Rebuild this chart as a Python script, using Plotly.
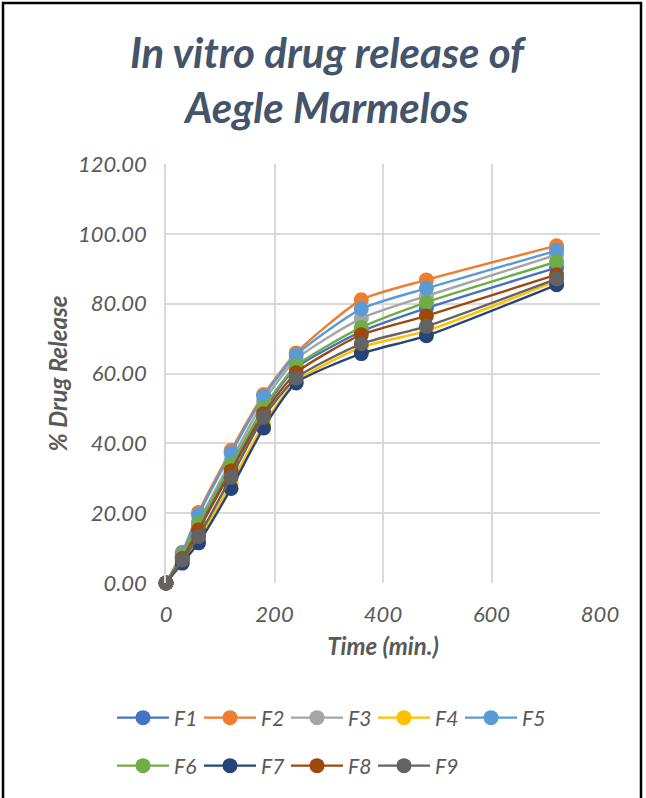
import plotly.graph_objects as go

# Sampling times (min.) and cumulative % drug release for each formulation
time_min = [0, 30, 60, 120, 180, 240, 360, 480, 720]

F1 = [0.00, 7.50, 16.00, 33.00, 49.50, 61.60, 72.00, 78.70, 90.30]
F2 = [0.00, 8.80, 20.20, 38.00, 54.00, 65.90, 81.10, 86.80, 96.60]
F3 = [0.00, 8.00, 17.50, 35.00, 52.00, 64.10, 75.80, 82.20, 94.00]
F4 = [0.00, 6.20, 12.50, 28.50, 45.50, 57.70, 67.50, 72.20, 86.50]
F5 = [0.00, 8.50, 19.50, 37.20, 53.40, 65.30, 78.50, 84.40, 95.20]
F6 = [0.00, 7.80, 17.10, 33.80, 50.20, 62.20, 73.20, 80.40, 92.00]
F7 = [0.00, 5.70, 11.50, 27.10, 44.40, 57.30, 65.70, 70.80, 85.40]
F8 = [0.00, 7.00, 15.20, 32.10, 48.50, 60.20, 71.10, 76.50, 88.30]
F9 = [0.00, 6.60, 13.30, 30.30, 47.50, 58.70, 68.50, 73.50, 87.10]

series_names = ["F1", "F2", "F3", "F4", "F5", "F6", "F7", "F8", "F9"]
series_values = [F1, F2, F3, F4, F5, F6, F7, F8, F9]
series_colors = ["#4472C4", "#ED7D31", "#A5A5A5", "#FFC000", "#5B9BD5",
                 "#70AD47", "#264478", "#9E480E", "#636363"]

FONT = "Lato, 'Open Sans', sans-serif"
TEXT_GRAY = "#595959"

fig = go.Figure()
for i, (name, vals, col) in enumerate(zip(series_names, series_values, series_colors)):
    fig.add_trace(go.Scatter(
        x=time_min, y=vals, name=name,
        mode="lines+markers",
        line=dict(color=col, width=2.4, shape="spline", smoothing=0.6),
        marker=dict(color=col, size=15),
        cliponaxis=False,
        legend="legend" if i < 5 else "legend2",
    ))

W, H = 646, 798
L, R, T, B = 166, 46, 164, 215
pw, ph = W - L - R, H - T - B


def px_x(x):
    return (x - L) / pw


def px_y(y):
    return (H - B - y) / ph


legend_font = dict(family=FONT, size=21, color=TEXT_GRAY, style="italic")
legend_common = dict(
    orientation="h", xanchor="left", yanchor="middle",
    font=legend_font, bgcolor="rgba(0,0,0,0)",
    entrywidth=20, entrywidthmode="pixels", itemwidth=52,
)

fig.update_layout(
    width=W, height=H,
    margin=dict(l=L, r=R, t=T, b=B),
    paper_bgcolor="white", plot_bgcolor="white",
    showlegend=True,
    title=dict(
        text="In vitro drug release of<br>Aegle Marmelos",
        x=327 / W, xref="container", xanchor="center",
        y=1 - 68 / H, yref="container", yanchor="middle",
        font=dict(family=FONT, size=42, color="#44546A", style="italic", weight="bold"),
    ),
    xaxis=dict(
        range=[0, 800], dtick=200, tick0=0,
        showgrid=True, gridcolor="#D9D9D9", gridwidth=1.5,
        zeroline=False, showline=False,
        ticks="", ticklabelstandoff=16,
        tickfont=dict(family=FONT, size=22, color=TEXT_GRAY, style="italic"),
        title=dict(text="Time (min.)", standoff=12,
                   font=dict(family=FONT, size=24, color=TEXT_GRAY,
                             style="italic", weight="bold")),
    ),
    yaxis=dict(
        range=[0, 120], dtick=20, tick0=0, tickformat=".2f",
        showgrid=True, gridcolor="#D9D9D9", gridwidth=1.5,
        zeroline=False, showline=True, linecolor="#D9D9D9", linewidth=1.5,
        ticks="", ticklabelstandoff=13,
        tickfont=dict(family=FONT, size=22, color=TEXT_GRAY, style="italic"),
        title=dict(text="% Drug Release", standoff=3,
                   font=dict(family=FONT, size=24, color=TEXT_GRAY,
                             style="italic", weight="bold")),
    ),
    legend=dict(x=px_x(112), y=px_y(718), **legend_common),
    legend2=dict(x=px_x(112), y=px_y(766), **legend_common),
)

# Black frame around the chart area
fig.add_shape(
    type="rect", xref="paper", yref="paper",
    x0=px_x(3), x1=px_x(641), y0=px_y(801), y1=px_y(3),
    line=dict(color="black", width=2.5), fillcolor="rgba(0,0,0,0)",
    layer="above",
)

fig.write_html("out.html")
